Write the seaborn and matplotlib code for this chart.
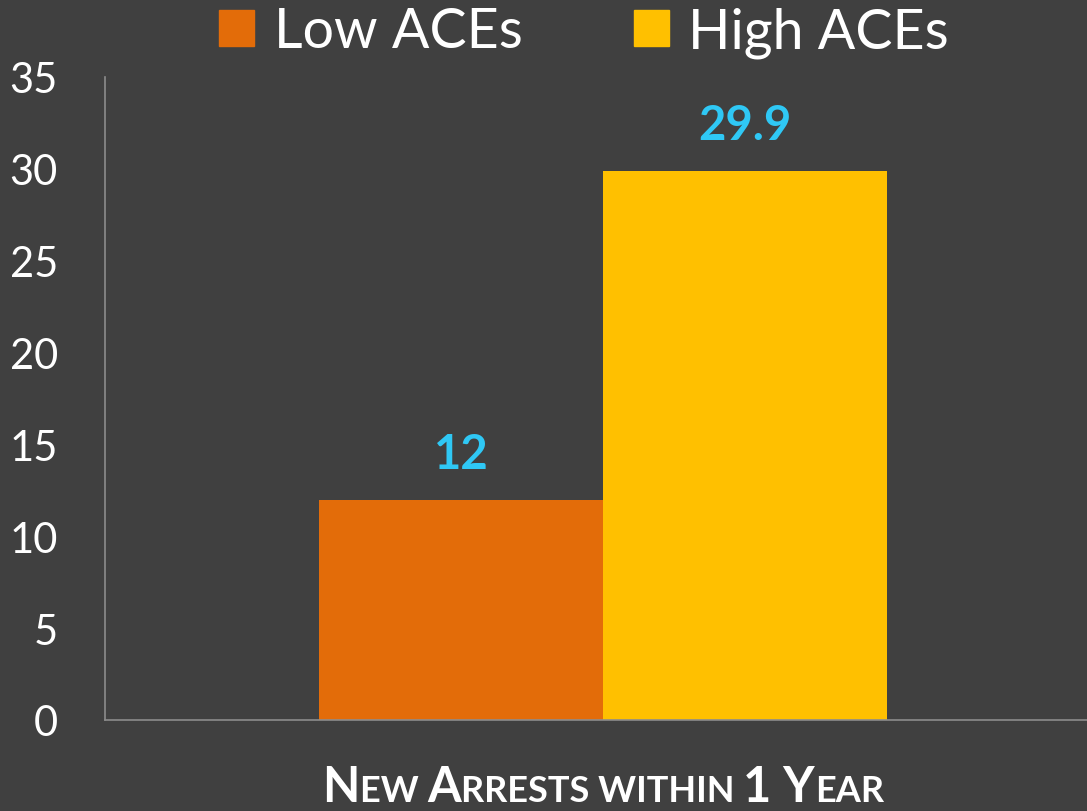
import pandas as pd
import matplotlib.pyplot as plt
import seaborn as sns

# chart values
category = ["New Arrests within 1 Year"]
groups = ["Low ACEs", "High ACEs"]
values = [12, 29.9]
y_ticks = [0, 5, 10, 15, 20, 25, 30, 35]

bg = "#404040"
bar_colors = ["#E36C09", "#FFC000"]
label_color = "#2FC8F5"
axis_color = "#8C8C8C"

data = pd.DataFrame({
    "category": category * len(groups),
    "group": groups,
    "value": values,
})

sns.set_style("dark")
plt.rcParams["font.family"] = ["Lato", "DejaVu Sans"]

fig = plt.figure(figsize=(10.87, 8.12), dpi=100, facecolor=bg)
ax = fig.add_axes([105 / 1087, 1 - 721 / 812, 1 - 105 / 1087, (721 - 78) / 812])
ax.set_facecolor(bg)

sns.barplot(data=data, x="category", y="value", hue="group", hue_order=groups,
            palette=bar_colors, width=0.578, saturation=1, linewidth=0,
            ax=ax, legend=False)

for cont in ax.containers:
    ax.bar_label(cont, fmt="%g", padding=17, color=label_color,
                 fontsize=34, fontweight="bold")

ax.set_ylim(0, 35)
ax.set_xlim(-0.507, 0.493)
ax.set_yticks(y_ticks)
ax.set_yticklabels([str(t) for t in y_ticks])
ax.tick_params(axis="y", length=0, pad=34, labelsize=30, labelcolor="white")
ax.set_xticks([])
ax.set_xlabel("")
ax.set_ylabel("")
ax.grid(False)
for side in ["top", "right"]:
    ax.spines[side].set_visible(False)
for side in ["left", "bottom"]:
    ax.spines[side].set_visible(True)
    ax.spines[side].set_color(axis_color)
    ax.spines[side].set_linewidth(1.2)

# legend
handles = [plt.Rectangle((0, 0), 1, 1, color=c) for c in bar_colors]
fig.legend(handles, groups, loc="center", bbox_to_anchor=(584 / 1087, 1 - 33 / 812),
           ncol=2, frameon=False, fontsize=40, labelcolor="white",
           handlelength=0.63, handleheight=0.63, handletextpad=0.35,
           columnspacing=2.0)

# small caps x label
pieces = [("N", 35), ("EW ", 26), ("A", 35), ("RRESTS WITHIN ", 26), ("1 Y", 35), ("EAR", 26)]
texts = [fig.text(0, 1 - 802 / 812, s, fontsize=fs, fontweight="bold", color="white",
                  va="baseline", ha="left") for s, fs in pieces]
fig.canvas.draw()
renderer = fig.canvas.get_renderer()
widths = [t.get_window_extent(renderer).width / fig.bbox.width for t in texts]
x = 603 / 1087 - sum(widths) / 2
for t, w in zip(texts, widths):
    t.set_x(x)
    x += w

fig.savefig("out.png", dpi=100, facecolor=bg)
